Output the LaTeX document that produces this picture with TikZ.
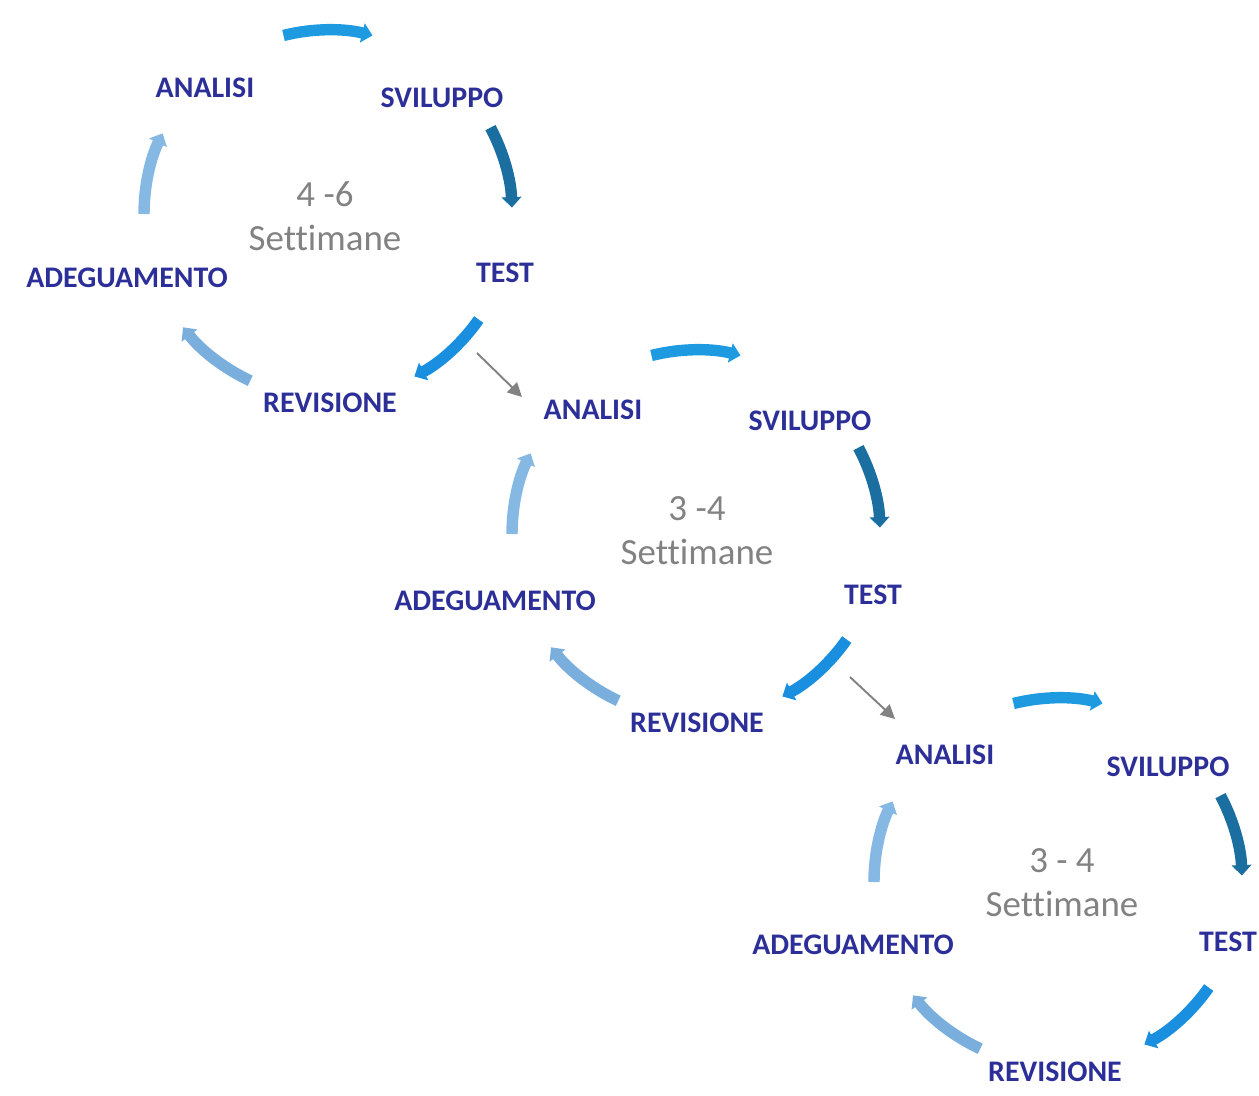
\documentclass[tikz,border=0pt]{standalone}
\usepackage{fontspec}
\setmainfont{Carlito}[Ligatures=NoCommon]
\usepackage{tikz}
\usetikzlibrary{
    arrows.meta
}
\definecolor{phaseblue}{RGB}{45,47,152}
\definecolor{weekgrey}{RGB}{130,130,130}
\definecolor{arctop}{RGB}{30,155,224}
\definecolor{arcright}{RGB}{27,111,160}
\definecolor{arcdown}{RGB}{26,143,224}
\definecolor{arcback}{RGB}{122,174,220}
\definecolor{arcleft}{RGB}{134,184,228}

\begin{document}
\begin{tikzpicture}[
    x=0.02cm,
    y=0.02cm,
    phase/.style={
        text=phaseblue,
        font=\bfseries\fontsize{17}{20}\selectfont,
        inner sep=0pt
    },
    weeks/.style={
        text=weekgrey,
        font=\fontsize{21}{25}\selectfont,
        align=center,
        inner sep=0pt
    },
    cyclearrow/.style={
        line width=6.5pt,
        -{Triangle[length=6pt,width=11pt]}
    },
    nextcycle/.style={
        draw=weekgrey,
        line width=1.1pt,
        -{Triangle[length=8pt,width=8pt]}
    }
]

\useasboundingbox (0,0) rectangle (1259,-1096);

% cycle centres

\coordinate (c1) at (328,-214);
\coordinate (c2) at (696,-534);
\coordinate (c3) at (1058,-882);

% first cycle

\node[phase] (analisi1) at (205,-88) {ANALISI};
\node[phase] (sviluppo1) at (442,-98) {SVILUPPO};
\node[phase] (test1) at (505,-273) {TEST};
\node[phase] (revisione1) at (330,-403) {REVISIONE};
\node[phase] (adeguamento1) at (127,-278) {ADEGUAMENTO};

\node[weeks] (weeks1) at (325,-216) {
    4 -6\\
    Settimane
};

\draw[cyclearrow, arctop]
    (c1) ++(104:184) arc[start angle=104, end angle=76, radius=184];
\draw[cyclearrow, arcright]
    (c1) ++(28:184) arc[start angle=28, end angle=2, radius=184];
\draw[cyclearrow, arcdown]
    (c1) ++(-35:184) arc[start angle=-35, end angle=-62, radius=184];
\draw[cyclearrow, arcback]
    (c1) ++(-115:184) arc[start angle=-115, end angle=-142, radius=184];
\draw[cyclearrow, arcleft]
    (c1) ++(180:184) arc[start angle=180, end angle=154, radius=184];

% second cycle

\node[phase] (analisi2) at (593,-410) {ANALISI};
\node[phase] (sviluppo2) at (810,-421) {SVILUPPO};
\node[phase] (test2) at (873,-595) {TEST};
\node[phase] (revisione2) at (697,-723) {REVISIONE};
\node[phase] (adeguamento2) at (495,-601) {ADEGUAMENTO};

\node[weeks] (weeks2) at (697,-531) {
    3 -4\\
    Settimane
};

\draw[cyclearrow, arctop]
    (c2) ++(104:184) arc[start angle=104, end angle=76, radius=184];
\draw[cyclearrow, arcright]
    (c2) ++(28:184) arc[start angle=28, end angle=2, radius=184];
\draw[cyclearrow, arcdown]
    (c2) ++(-35:184) arc[start angle=-35, end angle=-62, radius=184];
\draw[cyclearrow, arcback]
    (c2) ++(-115:184) arc[start angle=-115, end angle=-142, radius=184];
\draw[cyclearrow, arcleft]
    (c2) ++(180:184) arc[start angle=180, end angle=154, radius=184];

% third cycle

\node[phase] (analisi3) at (945,-755) {ANALISI};
\node[phase] (sviluppo3) at (1168,-767) {SVILUPPO};
\node[phase] (test3) at (1228,-942) {TEST};
\node[phase] (revisione3) at (1055,-1072) {REVISIONE};
\node[phase] (adeguamento3) at (853,-945) {ADEGUAMENTO};

\node[weeks] (weeks3) at (1062,-883) {
    3 - 4\\
    Settimane
};

\draw[cyclearrow, arctop]
    (c3) ++(104:184) arc[start angle=104, end angle=76, radius=184];
\draw[cyclearrow, arcright]
    (c3) ++(28:184) arc[start angle=28, end angle=2, radius=184];
\draw[cyclearrow, arcdown]
    (c3) ++(-35:184) arc[start angle=-35, end angle=-62, radius=184];
\draw[cyclearrow, arcback]
    (c3) ++(-115:184) arc[start angle=-115, end angle=-142, radius=184];
\draw[cyclearrow, arcleft]
    (c3) ++(180:184) arc[start angle=180, end angle=154, radius=184];

% passing to the next cycle

\coordinate (out1) at (477,-353);
\coordinate (in2) at (522,-397);
\coordinate (out2) at (850,-677);
\coordinate (in3) at (895,-719);

\draw[nextcycle] (out1) -- (in2);
\draw[nextcycle] (out2) -- (in3);

\end{tikzpicture}
\end{document}
